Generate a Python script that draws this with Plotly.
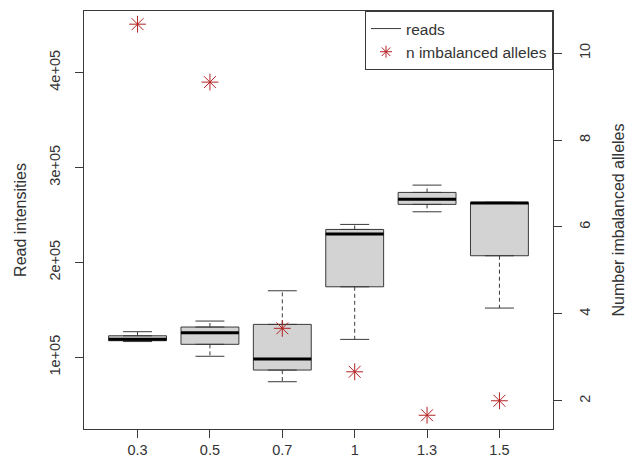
import plotly.graph_objects as go

# ---- data ----
categories = ["0.3", "0.5", "0.7", "1", "1.3", "1.5"]
reads_lower = [116600, 101100, 74300, 118900, 253300, 151900]
reads_q1 = [117500, 113700, 86600, 174300, 261100, 207000]
reads_median = [119000, 125900, 98200, 229800, 266600, 262500]
reads_q3 = [122700, 131900, 134700, 234700, 273700, 263200]
reads_upper = [127000, 138200, 170100, 240000, 281400, 263200]
n_imbalanced = [32 / 3, 28 / 3, 11 / 3, 8 / 3, 5 / 3, 2]

left_ticks = [100000, 200000, 300000, 400000]
left_ticktext = ["1e+05", "2e+05", "3e+05", "4e+05"]
right_ticks = [2, 4, 6, 8, 10]

positions = list(range(1, len(categories) + 1))
BOXW = 0.8
CAPW = 0.4

FONT = "Liberation Sans, Arial, sans-serif"
LINE = "#3a3a3a"
RED = "#B22222"

fig = go.Figure()

# boxes (no whiskers from Box itself)
fig.add_trace(go.Box(
    x=positions, q1=reads_q1, median=reads_median, q3=reads_q3,
    lowerfence=reads_q1, upperfence=reads_q3,
    width=BOXW, fillcolor="#D3D3D3", line=dict(color=LINE, width=1),
    showlegend=False, hoverinfo="skip", boxpoints=False,
))

# dashed whiskers
wx, wy = [], []
for p, lo, q1, q3, up in zip(positions, reads_lower, reads_q1, reads_q3, reads_upper):
    wx += [p, p, None, p, p, None]
    wy += [q3, up, None, q1, lo, None]
fig.add_trace(go.Scatter(x=wx, y=wy, mode="lines",
                         line=dict(color=LINE, width=1, dash="4px,3px"),
                         showlegend=False, hoverinfo="skip"))

# caps
cx, cy = [], []
for p, lo, up in zip(positions, reads_lower, reads_upper):
    cx += [p - CAPW / 2, p + CAPW / 2, None, p - CAPW / 2, p + CAPW / 2, None]
    cy += [up, up, None, lo, lo, None]
fig.add_trace(go.Scatter(x=cx, y=cy, mode="lines",
                         line=dict(color=LINE, width=1),
                         showlegend=False, hoverinfo="skip"))

# medians (thick)
mx, my = [], []
for p, m in zip(positions, reads_median):
    mx += [p - BOXW / 2, p + BOXW / 2, None]
    my += [m, m, None]
fig.add_trace(go.Scatter(x=mx, y=my, mode="lines",
                         line=dict(color="black", width=3),
                         showlegend=False, hoverinfo="skip"))

# imbalanced alleles points on right axis
fig.add_trace(go.Scatter(x=positions, y=n_imbalanced, mode="markers",
                         showlegend=False, yaxis="y2", hoverinfo="skip",
                         marker=dict(symbol="asterisk-open", size=14,
                                     color=RED, line=dict(color=RED, width=1))))

# legend entries
fig.add_trace(go.Scatter(x=[None], y=[None], mode="lines", name="reads",
                         line=dict(color=LINE, width=1)))
fig.add_trace(go.Scatter(x=[None], y=[None], mode="markers", yaxis="y2",
                         name="n imbalanced alleles",
                         marker=dict(symbol="asterisk-open", size=10,
                                     color=RED, line=dict(color=RED, width=1))))

fig.update_layout(
    width=627, height=466,
    margin=dict(l=84, r=74, t=11, b=37),
    paper_bgcolor="white", plot_bgcolor="white",
    font=dict(family=FONT, size=14, color="#333"),
    xaxis=dict(range=[0.26, 6.74], tickvals=positions, ticktext=categories,
               showgrid=False, zeroline=False, showline=True, mirror=True,
               linecolor=LINE, linewidth=1, ticks="outside", ticklen=8,
               tickcolor=LINE, tickfont=dict(size=14.5), automargin=False,
               ticklabelstandoff=0),
    yaxis=dict(range=[24500, 464800], tickvals=left_ticks, ticktext=left_ticktext,
               tickangle=-90, showgrid=False, zeroline=False, showline=True,
               mirror=True, linecolor=LINE, linewidth=1, ticks="outside",
               ticklen=8, tickcolor=LINE, tickfont=dict(size=14.5),
               ticklabelstandoff=9, automargin=False,
               title=dict(text="Read intensities", font=dict(size=16), standoff=16)),
    yaxis2=dict(range=[1.35, 10.97], tickvals=right_ticks, overlaying="y",
                side="right", tickangle=-90, showgrid=False, zeroline=False,
                showline=False, ticks="outside", ticklen=8, tickcolor=LINE,
                tickfont=dict(size=14.5), ticklabelstandoff=11, automargin=False,
                title=dict(text="Number imbalanced alleles", font=dict(size=16),
                           standoff=26)),
    legend=dict(x=1, y=1, xanchor="right", yanchor="top",
                bordercolor=LINE, borderwidth=1, bgcolor="white",
                font=dict(size=15.5), tracegroupgap=0,
                itemwidth=30),
    showlegend=True,
)

fig.write_html("out.html", config={"displayModeBar": False},
               post_script="document.body.style.margin='0';document.body.style.overflow='hidden';")
